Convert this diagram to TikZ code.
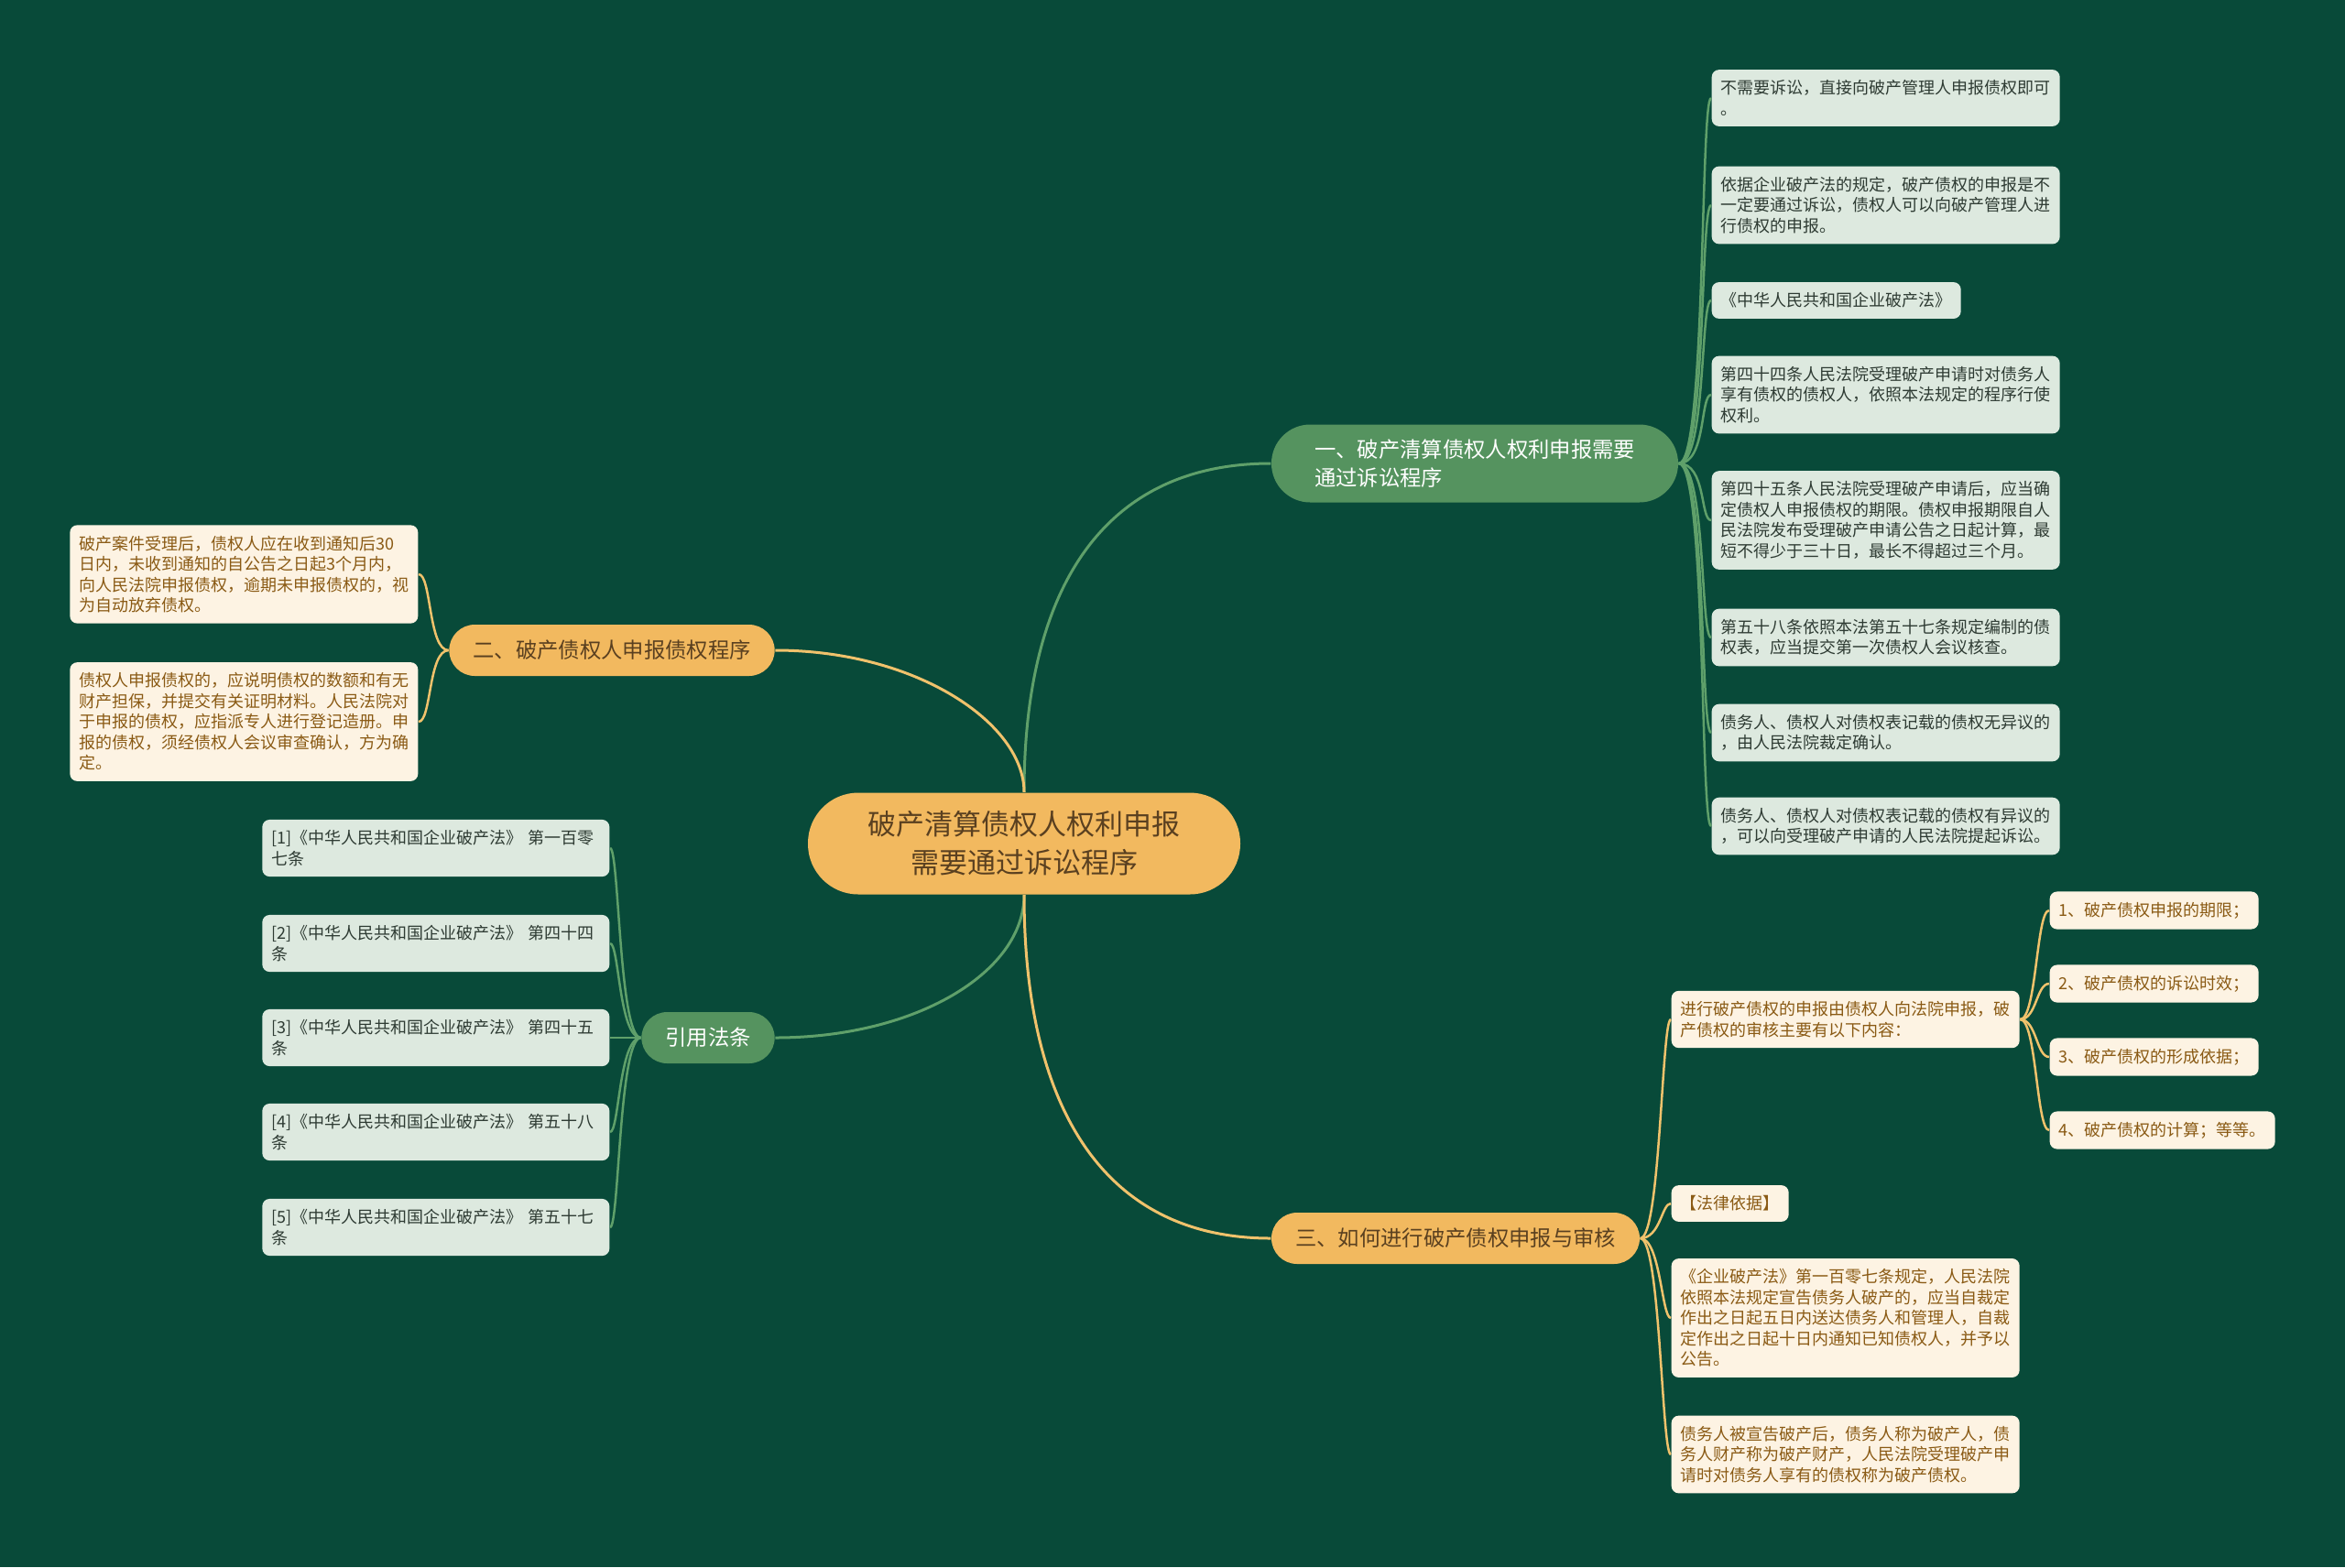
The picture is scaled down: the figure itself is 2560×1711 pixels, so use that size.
\documentclass[tikz,border=0pt]{standalone}
\usepackage{fontspec}
\setmainfont{Noto Sans CJK SC}
\usepackage{xcolor}
\usepackage{tikz}
\usetikzlibrary{positioning}

\definecolor{fundo}{HTML}{084A39}
\definecolor{laranja}{HTML}{F2B95F}
\definecolor{verde}{HTML}{55935F}
\definecolor{linhaverde}{HTML}{5FA06A}
\definecolor{linhalaranja}{HTML}{F0C26C}
\definecolor{folhaverde}{HTML}{DDE9DF}
\definecolor{folhacreme}{HTML}{FDF3E3}
\definecolor{textoverde}{HTML}{2E3B33}
\definecolor{textocreme}{HTML}{8A5A14}
\definecolor{textoescuro}{HTML}{5A4020}

\begin{document}
\begin{tikzpicture}[x=0.3pt, y=-0.3pt,
  raiz/.style={fill=laranja, text=textoescuro, rounded corners=16.5pt, align=center, minimum width=141.6pt, minimum height=33.3pt, font=\fontsize{9.3pt}{12.7pt}\selectfont},
  ramo/.style={rounded corners=8.4pt, align=left, inner xsep=7.8pt, minimum height=16.8pt, font=\fontsize{7pt}{9.3pt}\selectfont},
  ramoverde/.style={ramo, fill=verde, text=white},
  ramolaranja/.style={ramo, fill=laranja, text=textoescuro},
  folha/.style={rounded corners=2.4pt, align=left, inner xsep=3pt, inner ysep=3.45pt, font=\fontsize{5.4pt}{6.75pt}\selectfont},
  folhav/.style={folha, fill=folhaverde, text=textoverde},
  folhac/.style={folha, fill=folhacreme, text=textocreme},
  artigo/.style={folhav, anchor=east, text width=107.7pt},
  lv/.style={draw=linhaverde, line width=0.75pt},
  ll/.style={draw=linhalaranja, line width=0.75pt}]
\fill[fundo] (0,0) rectangle (2560,1711);
\useasboundingbox (0,0) rectangle (2560,1711);

% centro e ramos
\node[raiz] (ctr) at (1118,921) {破产清算债权人权利申报\\需要通过诉讼程序};
\node[ramoverde, minimum width=133.2pt, minimum height=25.5pt, rounded corners=12.7pt] (um) at (1610,506) {一、破产清算债权人权利申报需要\\通过诉讼程序};
\node[ramolaranja] (dois) at (668,710) {二、破产债权人申报债权程序};
\node[ramoverde] (lei) at (773,1133) {引用法条};
\node[ramolaranja] (tres) at (1589,1352) {三、如何进行破产债权申报与审核};

% folhas do ramo um
\node[folhav, anchor=west] (g1) at (1868,107) {不需要诉讼，直接向破产管理人申报债权即可\\。};
\node[folhav, anchor=west] (g2) at (1868,224) {依据企业破产法的规定，破产债权的申报是不\\一定要通过诉讼，债权人可以向破产管理人进\\行债权的申报。};
\node[folhav, anchor=west] (g3) at (1868,328) {《中华人民共和国企业破产法》};
\node[folhav, anchor=west] (g4) at (1868,431) {第四十四条人民法院受理破产申请时对债务人\\享有债权的债权人，依照本法规定的程序行使\\权利。};
\node[folhav, anchor=west] (g5) at (1868,568) {第四十五条人民法院受理破产申请后，应当确\\定债权人申报债权的期限。债权申报期限自人\\民法院发布受理破产申请公告之日起计算，最\\短不得少于三十日，最长不得超过三个月。};
\node[folhav, anchor=west] (g6) at (1868,696) {第五十八条依照本法第五十七条规定编制的债\\权表，应当提交第一次债权人会议核查。};
\node[folhav, anchor=west] (g7) at (1868,800) {债务人、债权人对债权表记载的债权无异议的\\，由人民法院裁定确认。};
\node[folhav, anchor=west] (g8) at (1868,902) {债务人、债权人对债权表记载的债权有异议的\\，可以向受理破产申请的人民法院提起诉讼。};

% folhas do ramo dois
\node[folhac, anchor=east] (c1) at (457,627) {破产案件受理后，债权人应在收到通知后30\\日内，未收到通知的自公告之日起3个月内，\\向人民法院申报债权，逾期未申报债权的，视\\为自动放弃债权。};
\node[folhac, anchor=east] (c2) at (457,788) {债权人申报债权的，应说明债权的数额和有无\\财产担保，并提交有关证明材料。人民法院对\\于申报的债权，应指派专人进行登记造册。申\\报的债权，须经债权人会议审查确认，方为确\\定。};

% folhas do ramo lei
\node[artigo] (r1) at (666,926) {[1]《中华人民共和国企业破产法》 第一百零\\七条};
\node[artigo] (r2) at (666,1030) {[2]《中华人民共和国企业破产法》 第四十四\\条};
\node[artigo] (r3) at (666,1133) {[3]《中华人民共和国企业破产法》 第四十五\\条};
\node[artigo] (r4) at (666,1236) {[4]《中华人民共和国企业破产法》 第五十八\\条};
\node[artigo] (r5) at (666,1340) {[5]《中华人民共和国企业破产法》 第五十七\\条};

% folhas do ramo tres
\node[folhac, anchor=west] (s1) at (1824,1113) {进行破产债权的申报由债权人向法院申报，破\\产债权的审核主要有以下内容：};
\node[folhac, anchor=west] (s2) at (1824,1314) {【法律依据】};
\node[folhac, anchor=west] (s3) at (1824,1439) {《企业破产法》第一百零七条规定，人民法院\\依照本法规定宣告债务人破产的，应当自裁定\\作出之日起五日内送达债务人和管理人，自裁\\定作出之日起十日内通知已知债权人，并予以\\公告。};
\node[folhac, anchor=west] (s4) at (1824,1588) {债务人被宣告破产后，债务人称为破产人，债\\务人财产称为破产财产，人民法院受理破产申\\请时对债务人享有的债权称为破产债权。};
\node[folhac, anchor=west] (t1) at (2237,994) {1、破产债权申报的期限；};
\node[folhac, anchor=west] (t2) at (2237,1074) {2、破产债权的诉讼时效；};
\node[folhac, anchor=west] (t3) at (2237,1154) {3、破产债权的形成依据；};
\node[folhac, anchor=west] (t4) at (2237,1234) {4、破产债权的计算；等等。};

% ligacoes do centro
\draw[lv, line width=0.9pt] (ctr.north) .. controls +(0,-215) and +(-188,0) .. (um.west);
\draw[ll, line width=0.9pt] (ctr.north) .. controls +(0,-75) and +(154,0) .. (dois.east);
\draw[lv, line width=0.9pt] (ctr.south) .. controls +(0,84) and +(154,0) .. (lei.east);
\draw[ll, line width=0.9pt] (ctr.south) .. controls +(0,224) and +(-188,0) .. (tres.west);

% ligacoes das folhas
\draw[lv] (um.east) .. controls +(30,0) and +(-12,0) .. (g1.west); \draw[lv] (um.east) .. controls +(30,0) and +(-12,0) .. (g2.west);
\draw[lv] (um.east) .. controls +(30,0) and +(-12,0) .. (g3.west); \draw[lv] (um.east) .. controls +(30,0) and +(-12,0) .. (g4.west);
\draw[lv] (um.east) .. controls +(30,0) and +(-12,0) .. (g5.west); \draw[lv] (um.east) .. controls +(30,0) and +(-12,0) .. (g6.west);
\draw[lv] (um.east) .. controls +(30,0) and +(-12,0) .. (g7.west); \draw[lv] (um.east) .. controls +(30,0) and +(-12,0) .. (g8.west);
\draw[ll] (dois.west) .. controls +(-22,0) and +(14,0) .. (c1.east); \draw[ll] (dois.west) .. controls +(-22,0) and +(14,0) .. (c2.east);
\draw[lv] (lei.west) .. controls +(-24,0) and +(10,0) .. (r1.east); \draw[lv] (lei.west) .. controls +(-24,0) and +(10,0) .. (r2.east);
\draw[lv] (lei.west) .. controls +(-24,0) and +(10,0) .. (r3.east); \draw[lv] (lei.west) .. controls +(-24,0) and +(10,0) .. (r4.east);
\draw[lv] (lei.west) .. controls +(-24,0) and +(10,0) .. (r5.east);
\draw[ll] (tres.east) .. controls +(22,0) and +(-10,0) .. (s1.west); \draw[ll] (tres.east) .. controls +(22,0) and +(-10,0) .. (s2.west);
\draw[ll] (tres.east) .. controls +(22,0) and +(-10,0) .. (s3.west); \draw[ll] (tres.east) .. controls +(22,0) and +(-10,0) .. (s4.west);
\draw[ll] (s1.east) .. controls +(18,0) and +(-14,0) .. (t1.west); \draw[ll] (s1.east) .. controls +(18,0) and +(-14,0) .. (t2.west);
\draw[ll] (s1.east) .. controls +(18,0) and +(-14,0) .. (t3.west); \draw[ll] (s1.east) .. controls +(18,0) and +(-14,0) .. (t4.west);
\end{tikzpicture}
\end{document}
